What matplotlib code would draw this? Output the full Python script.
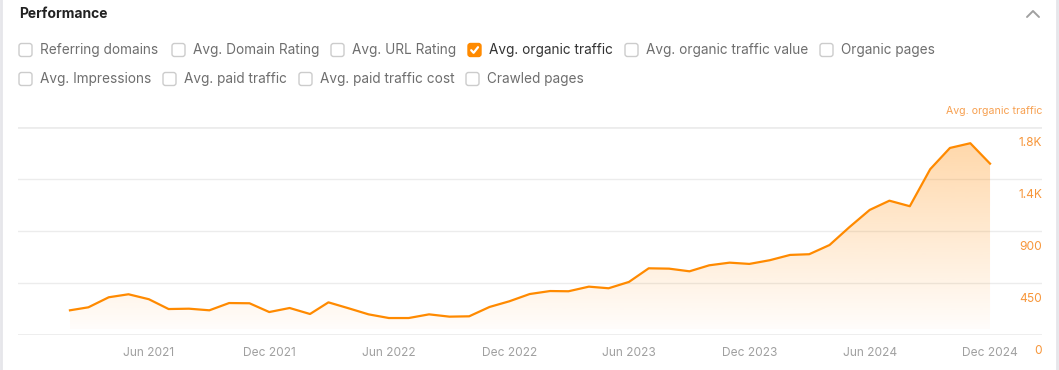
import numpy as np
import matplotlib
matplotlib.use("Agg")
import matplotlib.pyplot as plt
import matplotlib.dates as mdates
from matplotlib.patches import FancyBboxPatch, Polygon
from matplotlib.colors import to_rgb
import matplotlib.transforms as mtransforms
import datetime as dt

plt.rcParams['font.family'] = ['Inter', 'DejaVu Sans']

# ---- data ----
months = [dt.date(2021 + (1 + i) // 12, (1 + i) % 12 + 1, 1) for i in range(47)]  # Feb 2021 .. Dec 2024
traffic = [214, 240, 327, 353, 310, 225, 228, 214, 277, 275, 199,
           234, 182, 283, 231, 179, 147, 147, 179, 159, 162, 243, 292,
           355, 381, 379, 419, 405, 460, 578, 575, 552, 604, 627, 616,
           648, 694, 700, 780, 934, 1084, 1164, 1116, 1437, 1621, 1662, 1485]

y_ticks = [0, 450, 900, 1350, 1800]
y_labels = ['0', '450', '900', '1.4K', '1.8K']
x_ticks = [dt.date(2021, 6, 1), dt.date(2021, 12, 1), dt.date(2022, 6, 1), dt.date(2022, 12, 1),
           dt.date(2023, 6, 1), dt.date(2023, 12, 1), dt.date(2024, 6, 1), dt.date(2024, 12, 1)]

row1 = ["Referring domains", "Avg. Domain Rating", "Avg. URL Rating", "Avg. organic traffic",
        "Avg. organic traffic value", "Organic pages"]
row1_x = [19, 172, 331, 468, 625, 820]
row2 = ["Avg. Impressions", "Avg. paid traffic", "Avg. paid traffic cost", "Crawled pages"]
row2_x = [19, 163, 299, 466]
checked = "Avg. organic traffic"

ORANGE = '#ff8a00'
W, H = 1059, 370
FILL_BASE = 50

fig = plt.figure(figsize=(W / 100, H / 100), dpi=100)
fig.patch.set_facecolor('white')

# background axes in pixel coordinates for the header / checkboxes
bg = fig.add_axes([0, 0, 1, 1])
bg.set_xlim(0, W)
bg.set_ylim(H, 0)
bg.axis('off')

bg.plot([1, 1], [0, H], color='#e6e6ea', lw=2)
bg.plot([W - 2, W - 2], [0, H], color='#e6e6ea', lw=2)

bg.text(19, 14, "Performance", fontsize=10, fontweight='bold', color='#222222', va='center')
bg.plot([1027, 1033, 1039], [17, 11, 17], color='#a0a0a0', lw=1.4, solid_capstyle='round')

def checkbox(x, y, label):
    on = label == checked
    box = FancyBboxPatch((x, y - 6.5), 13, 13, boxstyle="round,pad=0,rounding_size=2.5",
                         facecolor=ORANGE if on else 'white',
                         edgecolor=ORANGE if on else '#cccccc', lw=1)
    bg.add_patch(box)
    if on:
        bg.plot([x + 3.2, x + 5.6, x + 10], [y + 0.2, y + 2.8, y - 2.8], color='white', lw=1.6,
                solid_capstyle='round', solid_joinstyle='round')
    bg.text(x + 21, y, label, fontsize=9.8, color='#333333' if on else '#6e6e6e', va='center')

for lab, x in zip(row1, row1_x):
    checkbox(x, 50, lab)
for lab, x in zip(row2, row2_x):
    checkbox(x, 79, lab)

# ---- chart ----
x0 = mdates.date2num(dt.date(2021, 2, 1)) - 79
x1 = mdates.date2num(dt.date(2024, 12, 1)) + 79
ax = fig.add_axes([18 / W, 35 / H, (1042 - 18) / W, (335 - 127.3) / H])
ax.patch.set_alpha(0)
ax.set_xlim(x0, x1)
ax.set_ylim(0, 1800)
for s in ax.spines.values():
    s.set_visible(False)

for v in y_ticks:
    lw = 2 if v in (0, 1800) else 1
    ax.axhline(v, color='#ececec', lw=lw, zorder=0)

xd = mdates.date2num(months)
r, g, b = to_rgb(ORANGE)
grad = np.zeros((256, 1, 4))
grad[:, 0, 0], grad[:, 0, 1], grad[:, 0, 2] = r, g, b
grad[:, 0, 3] = np.linspace(0.36, 0.02, 256)
img = ax.imshow(grad, extent=[xd[0], xd[-1], FILL_BASE, 1800], aspect='auto', zorder=1,
                interpolation='bilinear')
verts = np.vstack([np.column_stack([xd, traffic]), [[xd[-1], FILL_BASE], [xd[0], FILL_BASE]]])
clip = Polygon(verts, closed=True, transform=ax.transData)
img.set_clip_path(clip)
ax.plot(xd, traffic, color=ORANGE, lw=1.6, zorder=3, solid_joinstyle='round')

ax.set_yticks([])
ax.set_xticks(mdates.date2num(x_ticks))
ax.set_xticklabels([d.strftime('%b %Y') for d in x_ticks], fontsize=8.6, color='#a0a0a0')
ax.tick_params(axis='x', length=0, pad=9)

off = mtransforms.offset_copy(ax.transData, fig=fig, x=0, y=-16, units='dots')
for v, lab in zip(y_ticks, y_labels):
    ax.text(1.0, v, lab, transform=mtransforms.blended_transform_factory(ax.transAxes, off),
            ha='right', va='center', fontsize=8.6, color='#f7963a')
ax.text(1.0, 1800, "Avg. organic traffic", ha='right', va='center', fontsize=7.6, color='#f7a050',
        transform=mtransforms.blended_transform_factory(
            ax.transAxes, mtransforms.offset_copy(ax.transData, fig=fig, x=0, y=16, units='dots')))

fig.savefig('out.png', dpi=100, facecolor='white')
